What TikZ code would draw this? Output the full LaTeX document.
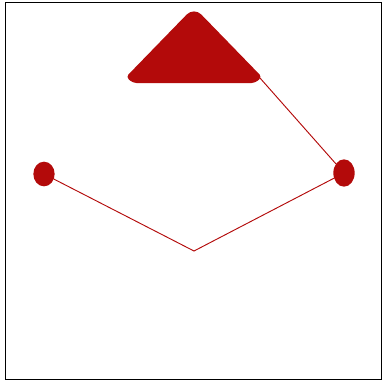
\documentclass[tikz,border=0pt]{standalone}
\usepackage{xcolor}
\usepackage{tikz}
\usetikzlibrary{shapes.geometric, positioning, calc}

\definecolor{blobred}{RGB}{179,10,10}

\begin{document}
\begin{tikzpicture}[x=0.03cm,y=-0.03cm,
    blob/.style={ellipse, fill=blobred, inner sep=0pt},
    wire/.style={blobred, line width=0.8pt}]

  % ==========================================
  % Frame
  % ==========================================
  \useasboundingbox (0,0) rectangle (385,381);
  \draw[black, line width=0.6pt] (5,2) rectangle (381,379);

  % ==========================================
  % Top triangle
  % ==========================================
  \fill[blobred, rounded corners=3pt] (126,77) [rounded corners=9pt] -- (194,7) [rounded corners=3pt] -- (262,77) -- (255,83) -- (133,83) -- cycle;
  \coordinate (triR) at (260,78);

  % ==========================================
  % Side blobs and lower vertex
  % ==========================================
  \node[blob, minimum width=0.64cm, minimum height=0.74cm] (left) at (44,174) {};
  \node[blob, minimum width=0.64cm, minimum height=0.82cm] (right) at (344,173) {};
  \coordinate (bot) at (194,251);

  % Connectors
  \draw[wire] (triR) -- (right);
  \draw[wire] (left) -- (bot) -- (right);

\end{tikzpicture}
\end{document}
